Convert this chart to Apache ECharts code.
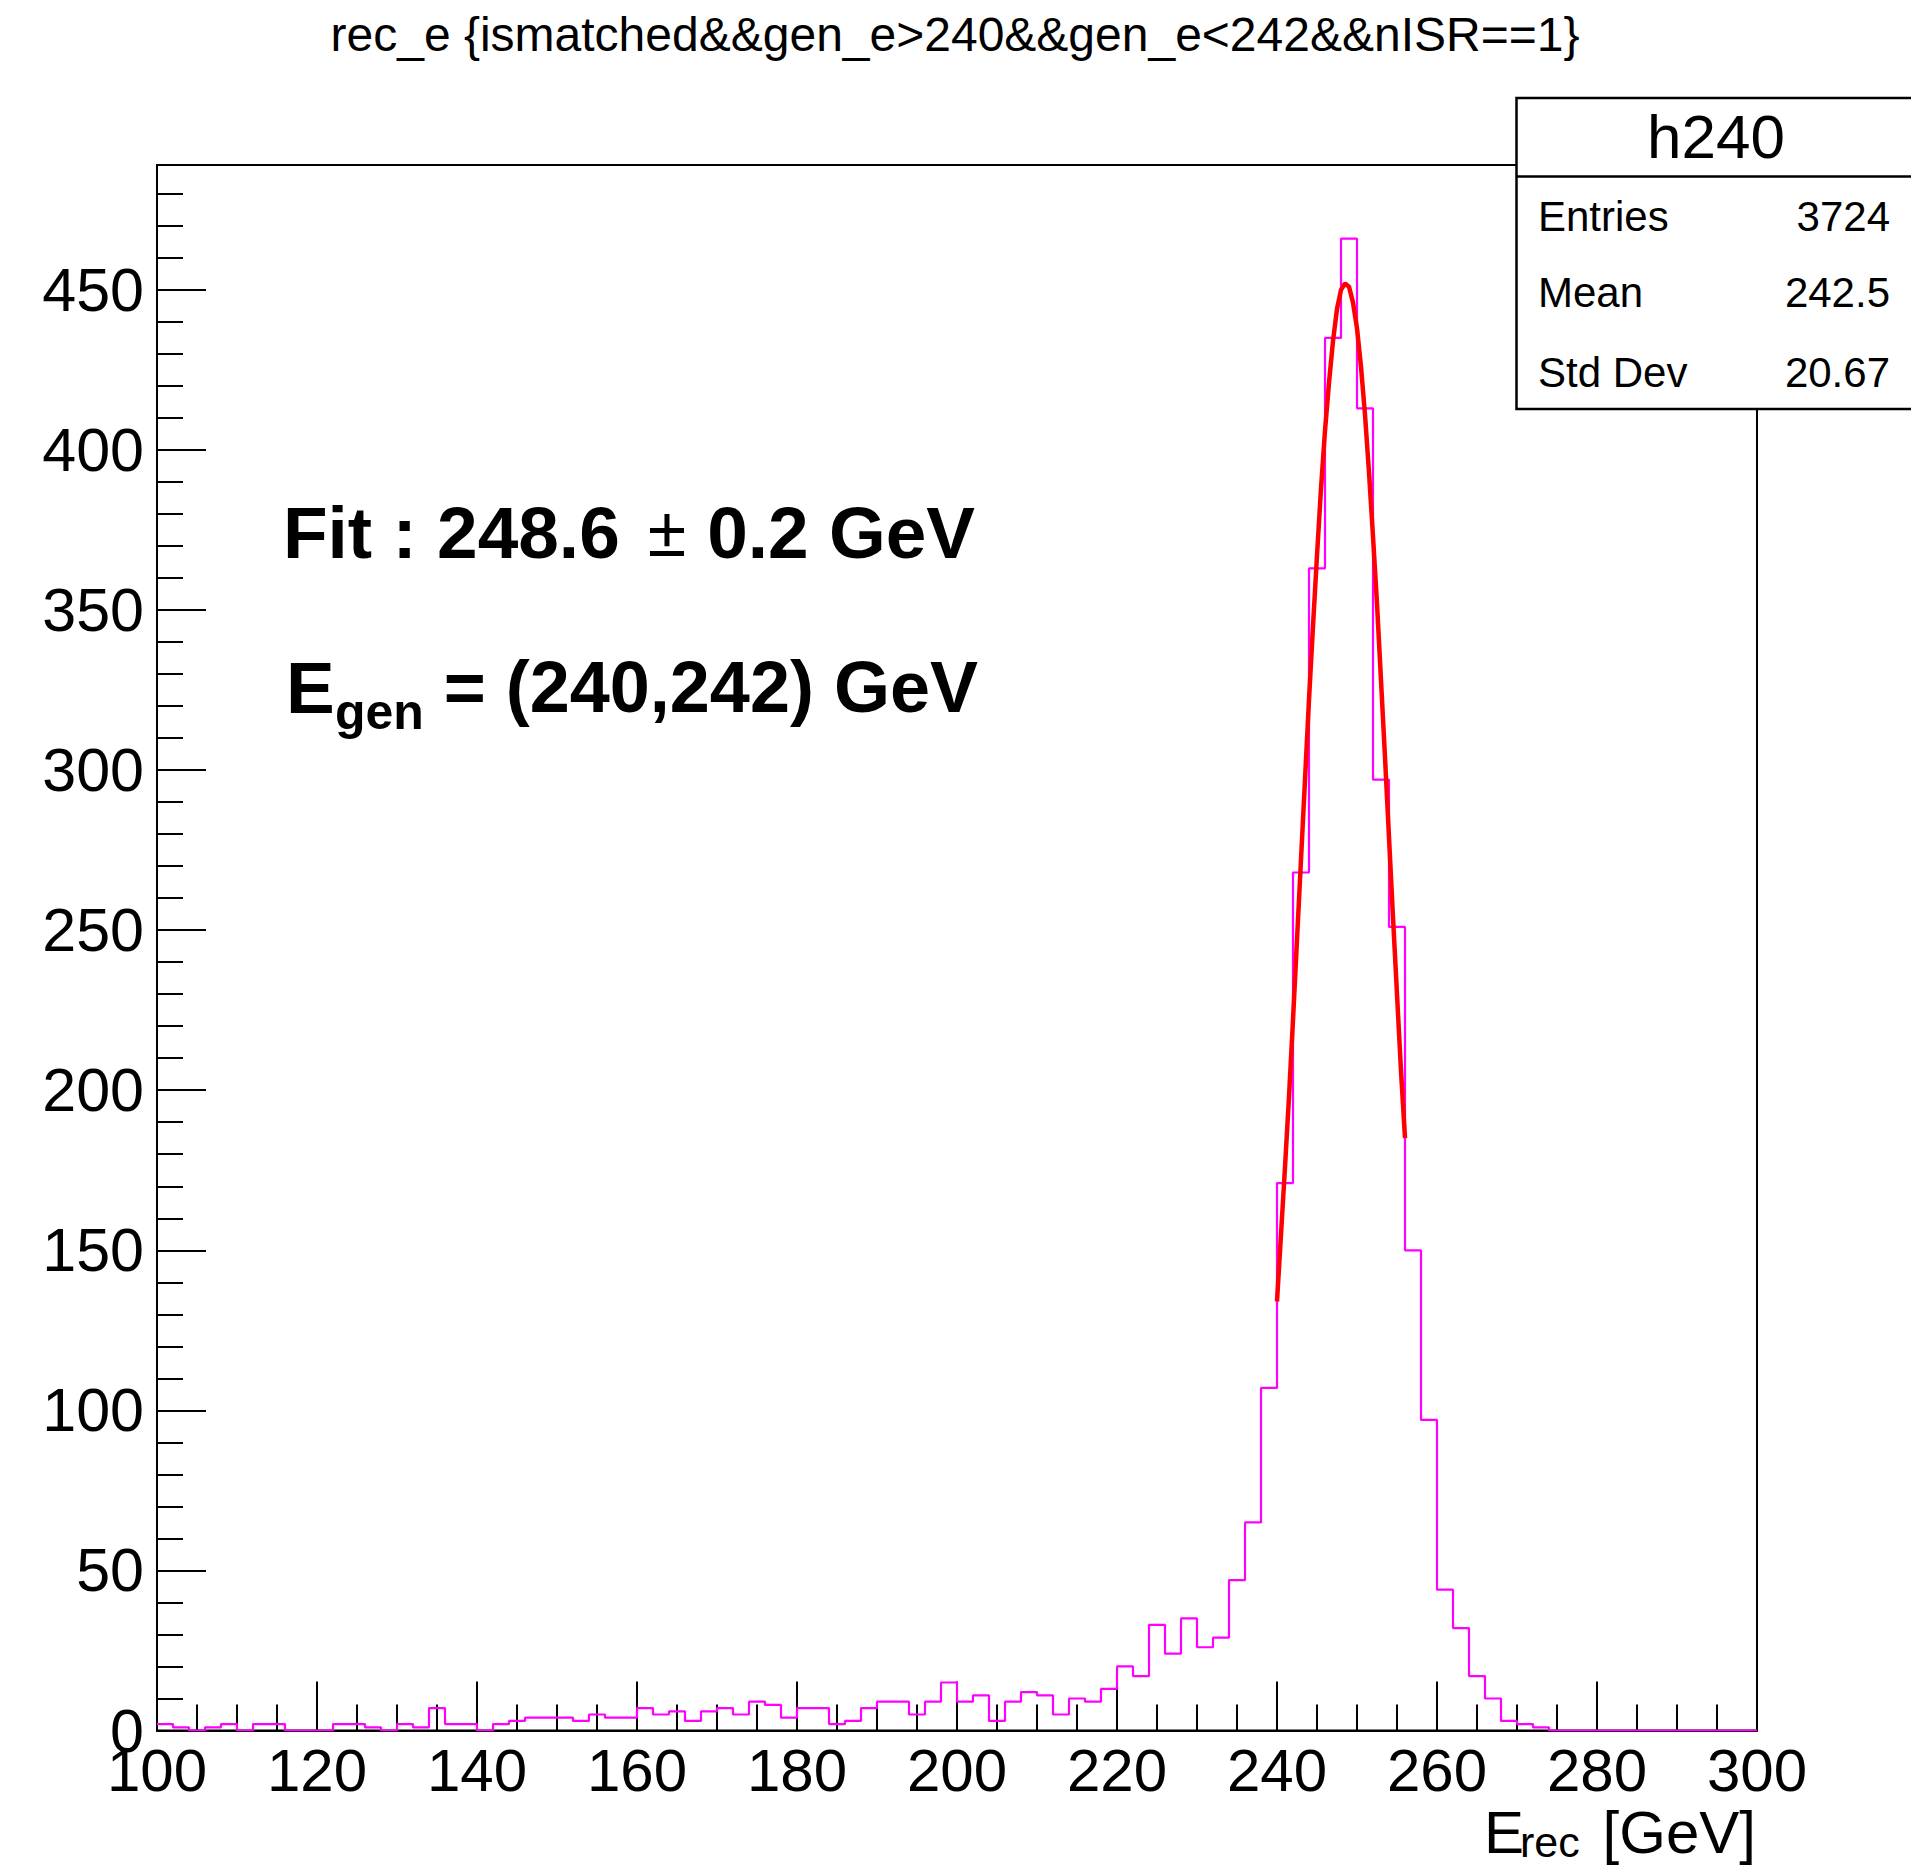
<!DOCTYPE html>
<html>
<head>
<meta charset="utf-8">
<script src="https://cdn.jsdelivr.net/npm/echarts@6/dist/echarts.min.js"></script>
<style>
  html, body { margin: 0; padding: 0; background: #fff; }
  #chart { width: 1911px; height: 1869px; }
</style>
</head>
<body>
<div id="chart"></div>
<script>
// ---- histogram definition ----
const xMin = 100;
const xMax = 300;
const binWidth = 2;
// bin contents, 100 bins of 2 GeV from 100 to 300
const counts = [
  2, 1, 0, 1, 2, 0, 2, 2, 0, 0,
  0, 2, 2, 1, 0, 2, 1, 7, 2, 2,
  0, 2, 3, 4, 4, 4, 3, 5, 4, 4,
  7, 5, 6, 3, 6, 7, 5, 9, 8, 4,
  7, 7, 2, 3, 7, 9, 9, 5, 9, 15,
  9, 11, 3, 9, 12, 11, 5, 10, 9, 13,
  20, 17, 33, 24, 35, 26, 29, 47, 65, 107,
  171, 268, 363, 435, 466, 413, 297, 251, 150, 97,
  44, 32, 17, 10, 3, 2, 1, 0, 0, 0,
  0, 0, 0, 0, 0, 0, 0, 0, 0, 0
];
// ---- fit curve ----
const fitX = [240, 240.5, 241, 241.5, 242, 242.5, 243, 243.5, 244, 244.5,
              245, 245.5, 246, 246.5, 247, 247.5, 248, 248.5, 249, 249.5,
              250, 250.5, 251, 251.5, 252, 252.5, 253, 253.5, 254, 254.5,
              255, 255.5, 256];
const fitY = [134, 155, 176, 198, 222, 247, 272, 297, 322, 345,
              367, 388, 406, 421, 434, 444, 450, 452, 451, 446,
              438, 426, 411, 393, 373, 352, 328, 304, 279, 254,
              230, 206, 185];
// ---- axes ----
const yMax = 489;
const xMajor = 20;
const yMajor = 50;
const yMinor = 10;
// ---- texts ----
const titleText = 'rec_e {ismatched&&gen_e>240&&gen_e<242&&nISR==1}';
const statsName = 'h240';
const statsLabels = ['Entries', 'Mean', 'Std Dev'];
const statsValues = ['3724', '242.5', '20.67'];
const fitLeft = 'Fit : 248.6';
const fitPm = '\u00B1';
const fitRight = '0.2 GeV';
const genMain = 'E';
const genSub = 'gen';
const genRest = '= (240,242) GeV';
const xTitleMain = 'E';
const xTitleSub = 'rec';
const xTitleRest = '[GeV]';

const FONT = '"Liberation Sans", Arial, Helvetica, sans-serif';

const histData = counts.map((c, i) => [xMin + i * binWidth, c]);
histData.push([xMax, counts[counts.length - 1]]);
const fitData = fitX.map((x, i) => [x, fitY[i]]);

const chart = echarts.init(document.getElementById('chart'), null, { renderer: 'svg' });

const statsTop = 98, statsRowY = [216, 292, 372];
function txt(text, x, y, align, font, z) {
  return { type: 'text', z: z || 50,
    style: { text: text, x: x, y: y, align: align, verticalAlign: 'middle', font: font, fill: '#000' } };
}
const graphics = [
  txt(titleText, 955, 34, 'center', '48px ' + FONT),
  // stats box
  { type: 'rect', z: 100, shape: { x: 1516.5, y: statsTop, width: 420, height: 311 },
    style: { fill: '#fff', stroke: '#000', lineWidth: 2.5 } },
  { type: 'line', z: 101, shape: { x1: 1516.5, y1: 176.5, x2: 1911, y2: 176.5 },
    style: { stroke: '#000', lineWidth: 2.5 } },
  txt(statsName, 1716, 136, 'center', '62px ' + FONT, 102),
  // fit annotations
  txt(fitLeft, 283, 532, 'left', 'bold 73px ' + FONT),
  txt(fitPm, 667, 532, 'center', '70px ' + FONT),
  txt(fitRight, 975, 532, 'right', 'bold 73px ' + FONT),
  txt(genMain, 286, 687, 'left', 'bold 73px ' + FONT),
  txt(genSub, 335, 712, 'left', 'bold 50px ' + FONT),
  txt(genRest, 978, 687, 'right', 'bold 72px ' + FONT),
  // x axis title
  txt(xTitleMain, 1484, 1832, 'left', '60px ' + FONT),
  txt(xTitleSub, 1520, 1842, 'left', '43px ' + FONT),
  txt(xTitleRest, 1756, 1832, 'right', '60px ' + FONT)
];
statsLabels.forEach((lab, i) => {
  graphics.push(txt(lab, 1538, statsRowY[i], 'left', '42px ' + FONT, 102));
  graphics.push(txt(statsValues[i], 1890, statsRowY[i], 'right', '42px ' + FONT, 102));
});

const option = {
  backgroundColor: '#fff',
  animation: false,
  grid: { left: 157, top: 165, width: 1600, height: 1565.5, show: true,
          borderColor: '#000', borderWidth: 2, backgroundColor: 'transparent' },
  xAxis: {
    type: 'value', min: xMin, max: xMax, interval: xMajor,
    axisLine: { show: true, onZero: false, lineStyle: { color: '#000', width: 2 } },
    axisTick: { show: true, inside: true, length: 49, lineStyle: { color: '#000', width: 2 } },
    minorTick: { show: true, splitNumber: 4, length: 26, lineStyle: { color: '#000', width: 2 } },
    splitLine: { show: false },
    axisLabel: { show: true, margin: 10, fontSize: 60, color: '#000', fontFamily: FONT,
                 showMinLabel: true, showMaxLabel: true, hideOverlap: false }
  },
  yAxis: [
    {
      type: 'value', min: 0, max: yMax, interval: yMajor, position: 'left',
      axisLine: { show: true, lineStyle: { color: '#000', width: 2 } },
      axisTick: { show: true, inside: true, length: 49, lineStyle: { color: '#000', width: 2 } },
      splitLine: { show: false },
      axisLabel: { show: true, margin: 13, fontSize: 61, color: '#000', fontFamily: FONT,
                   showMaxLabel: false, hideOverlap: false,
                   formatter: v => (v % yMajor === 0 ? String(v) : '') }
    },
    {
      type: 'value', min: 0, max: yMax, interval: yMinor, position: 'left', offset: 0,
      axisLine: { show: false },
      axisTick: { show: true, inside: true, length: 26, lineStyle: { color: '#000', width: 2 } },
      splitLine: { show: false },
      axisLabel: { show: false }
    }
  ],
  series: [
    {
      type: 'line', name: 'h240', data: histData, step: 'end', yAxisIndex: 0,
      showSymbol: false, symbol: 'none', clip: true, z: 5,
      lineStyle: { color: '#ff00ff', width: 2.2 }
    },
    {
      type: 'line', name: 'fit', data: fitData, yAxisIndex: 0, smooth: false,
      showSymbol: false, symbol: 'none', clip: true, z: 6,
      lineStyle: { color: '#ff0000', width: 4.5 }
    }
  ],
  graphic: graphics
};
chart.setOption(option);
</script>
</body>
</html>
